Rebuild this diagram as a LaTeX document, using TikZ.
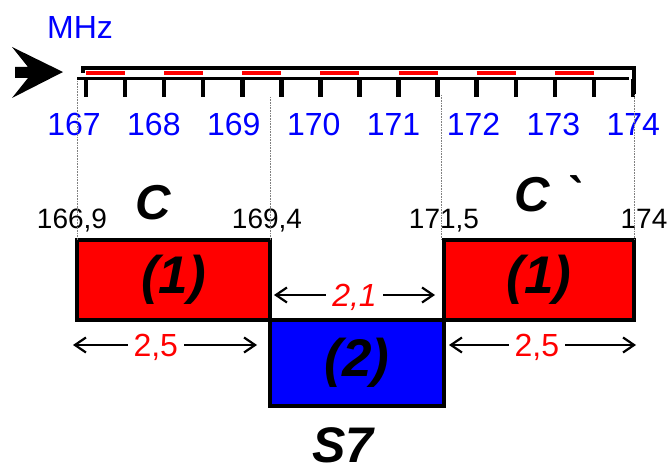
\documentclass[tikz,border=0pt]{standalone}
\usepackage{fontspec}
\setmainfont{Liberation Sans}
\usetikzlibrary{positioning,arrows.meta,calc}

\begin{document}
\begin{tikzpicture}[
    x=1pt,y=-1pt,
    box/.style={draw,line width=4pt,outer sep=0pt,inner sep=0pt,
      font=\fontsize{53}{53}\selectfont\bfseries\itshape},
    corner/.style={inner sep=0pt,text depth=0pt,font=\fontsize{28}{28}\selectfont},
    chan/.style={inner sep=0pt,text depth=0pt,font=\fontsize{49}{49}\selectfont\bfseries\itshape},
    mhz/.style={inner sep=0pt,text=blue,font=\fontsize{32}{32}\selectfont},
    rail/.style={line width=3.5pt},
    tickmark/.style={line width=4.5pt},
    guide/.style={densely dotted,gray,line width=0.6pt},
    dim/.style={line width=2.2pt,{Straight Barb[length=11pt,width=15pt]}-{Straight Barb[length=11pt,width=15pt]}},
    dimlabel/.style={fill=white,text=red,inner xsep=6pt,inner ysep=0pt,text depth=0pt,
      font=\fontsize{32}{32}\selectfont},
    node distance=11pt
  ]
  \useasboundingbox (0,0) rectangle (670,470);

  % frequency axis
  \fill (63,72) -- (12,47) -- (28,67) -- (15,67) -- (15,78) -- (28,78) -- (12,98) -- cycle;
  \draw[rail] (83,73) -- (83,68) -- (634,68) -- (634,94);
  \draw[rail] (77,78.5) -- (629,78.5);
  \foreach \i in {0,...,6}
    \draw[rail,red,line width=4pt] (86+\i*78.14,73.5) -- ++(39.07,0);
  \foreach \i in {0,...,14}
    \draw[tickmark] (86+\i*39.07,79) -- ++(0,18);
  \node[mhz] (unit) at (80,27) {MHz};
  \foreach \f [count=\i from 0] in {167,...,174}
    \node[mhz] (f\f) at (74+\i*79.9,124) {\f};

  % channels
  \node[box,fill=red,minimum width=193pt,minimum height=80pt,anchor=north west] (c1) at (77,240) {(1)};
  \node[box,fill=blue,minimum width=174pt,minimum height=86pt,below right=0pt and 0pt of c1] (s7) {(2)};
  \node[box,fill=red,minimum width=190pt,minimum height=80pt,above right=0pt and 0pt of s7] (c2) {(1)};

  \node[corner,above=of c1.north west,xshift=-5pt] (lo1) {166,9};
  \node[corner,above=of c1.north east,xshift=-3pt] (hi1) {169,4};
  \node[corner,above=of c2.north west] (lo2) {171,5};
  \node[corner,above=of c2.north east,xshift=10pt] (hi2) {174};
  \node[chan,above=20pt of c1.north,xshift=-20pt] (n1) {C};
  \node[chan,above=28pt of c2.north,xshift=8pt] (n2) {C \textasciigrave};
  \node[chan,font=\fontsize{50}{50}\selectfont\bfseries\itshape,below=21pt of s7.south,xshift=-14pt] (n3) {S7};

  \foreach \x/\y [count=\k] in {77/81,270/97,441/95,634/95}
    \coordinate (g\k) at (\x,\y);
  \foreach \k in {1,...,4}
    \draw[guide] (g\k) -- (g\k |- c1.north);

  % widths
  \draw[dim] ($(c1.east)+(4,15)$) -- node[dimlabel,font=\fontsize{32}{32}\selectfont\itshape] {2,1} ($(c2.west)+(-9,15)$);
  \draw[dim] ($(c1.south west)+(-4,25)$) -- node[dimlabel,pos=.45] {2,5} ($(c1.south east)+(-13,25)$);
  \draw[dim] ($(c2.south west)+(5,25)$) -- node[dimlabel,pos=.47] {2,5} ($(c2.south east)+(2,25)$);
\end{tikzpicture}
\end{document}
